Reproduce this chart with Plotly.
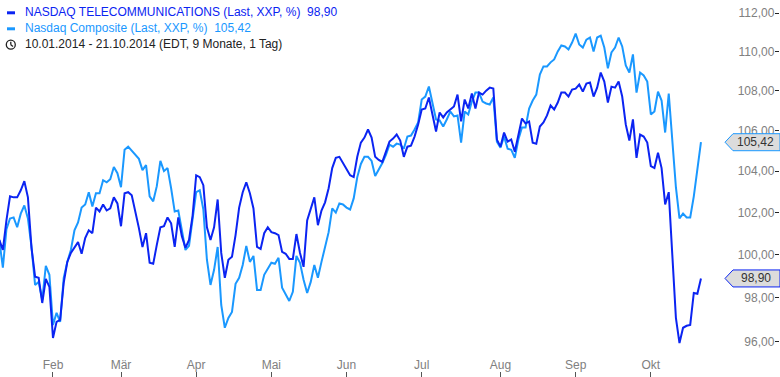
import math
import pandas as pd
import plotly.graph_objects as go

# ---------------- data ----------------
holidays = ["2014-01-20", "2014-02-17", "2014-04-18", "2014-05-26", "2014-07-04", "2014-09-01"]
dates = [d.strftime("%Y-%m-%d") for d in
         pd.bdate_range("2014-01-10", "2014-10-21", freq="C", holidays=holidays)]

month_ticks = ["2014-02-03", "2014-03-03", "2014-04-01", "2014-05-01", "2014-06-02",
               "2014-07-01", "2014-08-01", "2014-09-02", "2014-10-01"]
month_labels = ["Feb", "Mär", "Apr", "Mai", "Jun", "Jul", "Aug", "Sep", "Okt"]
y_ticks = [96, 98, 100, 102, 104, 106, 108, 110, 112]

telecom = [100.70, 100.23, 101.63, 102.78, 102.73, 102.73, 103.07, 103.51, 102.73, 100.33,
           98.98, 98.93, 97.77, 98.88, 98.51, 96.18, 96.91, 97.00, 98.70, 99.67,
           100.09, 100.37, 100.60, 100.05, 100.79, 101.16, 101.02, 102.24, 102.05, 102.39,
           102.10, 102.20, 102.73, 102.44, 101.35, 102.93, 102.98, 102.83, 102.10, 101.26,
           100.37, 101.02, 99.63, 99.58, 100.47, 101.30, 101.35, 101.77, 101.49, 100.37,
           101.77, 100.88, 100.33, 100.70, 101.86, 103.80, 103.71, 103.32, 101.30, 100.70,
           101.30, 102.63, 100.09, 98.93, 99.77, 99.91, 100.93, 102.24, 102.98, 103.46,
           102.93, 102.20, 100.37, 100.28, 101.02, 101.30, 101.07, 101.02, 100.93, 100.14,
           100.05, 99.81, 99.81, 100.98, 100.09, 99.44, 101.63, 102.15, 102.73, 101.40,
           102.10, 102.49, 103.17, 104.15, 104.65, 104.70, 104.40, 104.15, 103.80, 103.71,
           104.70, 105.40, 105.65, 106.05, 105.65, 104.70, 104.55, 104.45, 104.90, 105.45,
           105.60, 105.80, 105.50, 104.70, 105.20, 105.25, 105.70, 106.30, 107.05, 107.10,
           107.65, 106.85, 105.95, 106.90, 106.65, 106.90, 107.05, 107.20, 107.80, 106.45,
           107.55, 107.10, 107.85, 107.10, 107.90, 107.80, 108.00, 108.15, 108.10, 105.55,
           105.20, 105.90, 105.45, 105.55, 104.95, 105.80, 106.60, 106.35, 106.45, 105.40,
           105.35, 106.20, 106.40, 106.75, 107.25, 107.05, 107.40, 107.90, 107.90, 107.70,
           108.05, 108.10, 108.31, 107.95, 108.36, 108.41, 107.70, 108.15, 108.92, 108.46,
           107.40, 108.20, 108.15, 108.46, 107.70, 106.30, 105.50, 106.55, 104.65, 105.80,
           105.70, 105.40, 104.25, 104.15, 104.90, 104.15, 102.39, 102.98, 100.09, 97.09,
           95.95, 96.64, 96.73, 96.77, 98.23, 98.19, 98.90]

composite = [100.70, 99.40, 101.21, 101.72, 101.77, 101.30, 101.95, 102.34, 101.72, 100.37,
             98.60, 98.74, 97.91, 99.49, 99.07, 96.77, 97.32, 96.91, 98.93, 99.67,
             100.23, 101.16, 101.53, 102.24, 102.39, 102.98, 102.29, 102.93, 102.93, 103.56,
             103.46, 103.61, 104.20, 103.90, 103.22, 105.05, 105.20, 105.00, 104.75, 104.60,
             104.05, 104.30, 102.78, 102.54, 103.27, 104.50, 104.00, 104.15, 103.17, 102.05,
             102.10, 101.12, 100.23, 100.42, 101.72, 102.98, 103.07, 102.15, 99.77, 98.60,
             99.30, 100.37, 97.68, 96.64, 97.09, 97.36, 98.65, 98.93, 99.53, 100.42,
             99.67, 99.95, 98.37, 98.37, 99.07, 99.35, 99.63, 99.58, 99.86, 98.47,
             98.19, 97.86, 98.28, 99.95, 99.63, 98.84, 98.23, 98.74, 99.53, 98.93,
             99.67, 100.33, 101.07, 102.20, 102.00, 102.44, 102.39, 102.24, 102.15, 102.68,
             103.71, 104.35, 104.70, 104.70, 104.50, 103.76, 104.05, 104.40, 104.80, 105.30,
             105.20, 105.35, 105.30, 105.10, 105.70, 105.75, 106.05, 106.40, 107.55, 107.70,
             108.21, 107.35, 106.55, 106.50, 106.20, 106.55, 106.95, 106.70, 106.75, 105.40,
             106.95, 106.80, 107.45, 107.90, 107.90, 107.45, 107.35, 107.30, 107.65, 105.45,
             105.15, 105.70, 105.10, 105.05, 104.65, 105.55, 106.15, 106.15, 107.10, 107.50,
             107.80, 108.82, 109.23, 109.23, 109.44, 109.59, 110.00, 110.31, 110.26, 110.10,
             110.46, 110.92, 110.36, 110.20, 110.61, 110.72, 110.00, 110.72, 110.82, 110.20,
             109.13, 109.95, 110.20, 110.72, 110.26, 109.28, 108.92, 109.85, 107.90, 108.92,
             108.77, 108.46, 106.80, 106.95, 107.95, 107.50, 105.90, 107.85, 105.55, 103.22,
             101.72, 101.95, 101.77, 101.77, 102.78, 104.05, 105.42]

names = ["NASDAQ TELECOMMUNICATIONS (Last, XXP, %)", "Nasdaq Composite (Last, XXP, %)"]
period_text = "10.01.2014 - 21.10.2014 (EDT, 9 Monate, 1 Tag)"

# ---------------- style ----------------
W, H = 780, 377
DARK = "#0b24f2"
LIGHT = "#1a98ff"
FONT = "Liberation Sans, Arial, sans-serif"
Y_RANGE = [1.975141, 2.051864]
X_RANGE = [0.2, 217.8]
MR = 1


def fmt(v):
    return f"{v:.2f}".replace(".", ",")


def yfrac(v):
    return (math.log10(v) - Y_RANGE[0]) / (Y_RANGE[1] - Y_RANGE[0])


def px(x):
    return x / W


def py(y):
    return 1 - y / H


fig = go.Figure()
fig.add_trace(go.Scatter(x=dates, y=composite, mode="lines", name=names[1],
                         line=dict(color=LIGHT, width=2), hoverinfo="skip"))
fig.add_trace(go.Scatter(x=dates, y=telecom, mode="lines", name=names[0],
                         line=dict(color=DARK, width=2), hoverinfo="skip"))

shapes = []
annotations = []

# legend-like header
for row, (nm, col, series) in enumerate([(names[0], DARK, telecom), (names[1], LIGHT, composite)]):
    yc = 12.8 + row * 16
    shapes.append(dict(type="line", xref="paper", yref="paper",
                       x0=px(7), x1=px(15), y0=py(yc), y1=py(yc),
                       line=dict(color=col, width=3)))
    annotations.append(dict(xref="paper", yref="paper", x=px(23), y=py(yc - 0.5),
                            xanchor="left", yanchor="middle", showarrow=False,
                            text=f"{nm}\u00a0\u00a0{fmt(series[-1])}",
                            font=dict(family=FONT, size=12, color=col)))

# clock icon + period
shapes.append(dict(type="circle", xref="paper", yref="paper",
                   x0=px(6.3), x1=px(15.3), y0=py(49.2), y1=py(40.2),
                   line=dict(color="#222", width=1.3)))
shapes.append(dict(type="line", xref="paper", yref="paper",
                   x0=px(10.8), x1=px(10.8), y0=py(44.7), y1=py(41.8),
                   line=dict(color="#222", width=1.3)))
shapes.append(dict(type="line", xref="paper", yref="paper",
                   x0=px(10.8), x1=px(13.0), y0=py(44.7), y1=py(46.6),
                   line=dict(color="#222", width=1.3)))
annotations.append(dict(xref="paper", yref="paper", x=px(23), y=py(44.3),
                        xanchor="left", yanchor="middle", showarrow=False,
                        text=period_text, font=dict(family=FONT, size=12, color="#222")))

# end-value boxes
for series, col in [(telecom, DARK), (composite, LIGHT)]:
    ya = yfrac(series[-1])
    shapes.append(dict(type="path", xref="paper", yref="paper",
                       xsizemode="pixel", ysizemode="pixel",
                       xanchor=1, yanchor=ya,
                       path="M -54,0 L -46,8.5 L 1,8.5 L 1,-8.5 L -46,-8.5 Z",
                       fillcolor="#dcdcdc", line=dict(color=col, width=1)))
    annotations.append(dict(xref="paper", yref="paper", x=px(756.5), y=ya,
                            xanchor="center", yanchor="middle", showarrow=False,
                            text=fmt(series[-1]),
                            font=dict(family=FONT, size=12, color="#333")))

fig.update_layout(
    width=W, height=H,
    margin=dict(l=0, r=MR, t=0, b=0, pad=0),
    paper_bgcolor="white", plot_bgcolor="white",
    showlegend=False,
    separators=",.",
    hovermode=False,
    font=dict(family=FONT, size=12, color="#808080"),
    shapes=shapes, annotations=annotations,
    xaxis=dict(type="category", range=X_RANGE, tickmode="array",
               tickvals=month_ticks, ticktext=month_labels,
               showgrid=False, zeroline=False, showline=False,
               ticks="inside", ticklen=5, tickcolor="#555", tickwidth=1,
               ticklabelposition="inside",
               tickfont=dict(family=FONT, size=12, color="#808080"),
               automargin=False, fixedrange=True),
    yaxis=dict(type="log", side="right", range=Y_RANGE, tickmode="array",
               tickvals=y_ticks, tickformat=".2f",
               showgrid=False, zeroline=False, showline=False,
               ticks="inside", ticklen=4, tickcolor="#222", tickwidth=1,
               ticklabelposition="inside",
               tickfont=dict(family=FONT, size=12, color="#808080"),
               automargin=False, fixedrange=True),
)

fig.write_html("out.html", config={"displayModeBar": False, "staticPlot": True},
               post_script="document.body.style.margin='0';document.body.style.overflow='hidden';")
